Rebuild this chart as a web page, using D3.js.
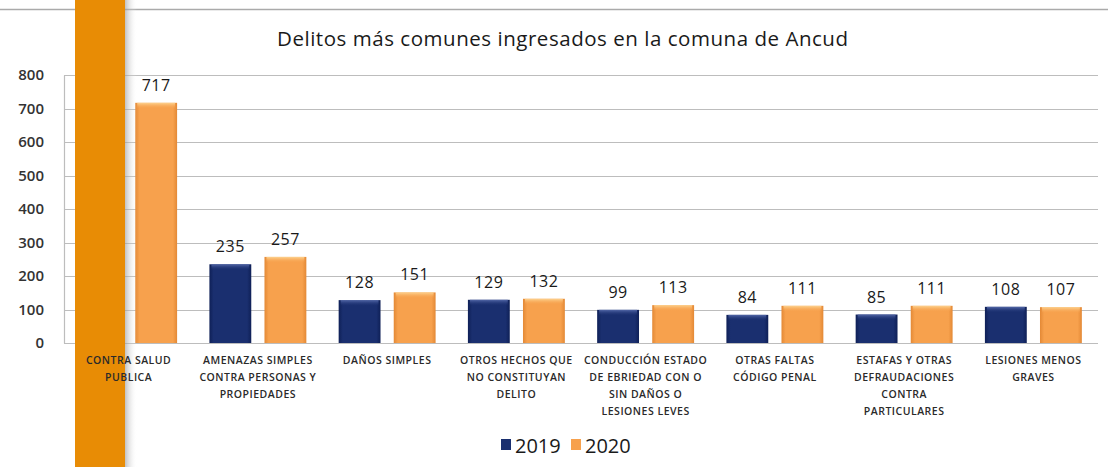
<!DOCTYPE html>
<html>
<head>
<meta charset="utf-8">
<script src="https://cdn.jsdelivr.net/npm/d3@7"></script>
<style>
  body { margin: 0; background: #fff; }
  svg { display: block; font-family: "Open Sans", Lato, sans-serif; }
</style>
</head>
<body>
<script>
// Data
const categories = [
  ["CONTRA SALUD", "PUBLICA"],
  ["AMENAZAS SIMPLES", "CONTRA PERSONAS Y", "PROPIEDADES"],
  ["DAÑOS SIMPLES"],
  ["OTROS HECHOS QUE", "NO CONSTITUYAN", "DELITO"],
  ["CONDUCCIÓN ESTADO", "DE EBRIEDAD CON O", "SIN DAÑOS O", "LESIONES LEVES"],
  ["OTRAS FALTAS", "CÓDIGO PENAL"],
  ["ESTAFAS Y OTRAS", "DEFRAUDACIONES", "CONTRA", "PARTICULARES"],
  ["LESIONES MENOS", "GRAVES"]
];
const values2019 = [null, 235, 128, 129, 99, 84, 85, 108]; // first one hidden behind the band
const values2020 = [717, 257, 151, 132, 113, 111, 111, 107];
const years = ["2019", "2020"];
const yTicks = [0, 100, 200, 300, 400, 500, 600, 700, 800];

const width = 1108, height = 467;
const margin = { top: 75, right: 10, bottom: 124, left: 64 };

const svg = d3.select('body').append('svg')
    .attr('width', width)
    .attr('height', height);

const defs = svg.append('defs');
function barGradient(id, dark, mid) {
  const g = defs.append('linearGradient').attr('id', id)
      .attr('x1', 0).attr('x2', 1).attr('y1', 0).attr('y2', 0);
  g.append('stop').attr('offset', '0%').attr('stop-color', dark);
  g.append('stop').attr('offset', '10%').attr('stop-color', mid);
  g.append('stop').attr('offset', '90%').attr('stop-color', mid);
  g.append('stop').attr('offset', '100%').attr('stop-color', dark);
  return `url(#${id})`;
}
function capGradient(id, light, mid) {
  const g = defs.append('linearGradient').attr('id', id)
      .attr('x1', 0).attr('x2', 0).attr('y1', 0).attr('y2', 1);
  g.append('stop').attr('offset', '0%').attr('stop-color', light);
  g.append('stop').attr('offset', '100%').attr('stop-color', mid).attr('stop-opacity', 0);
  return `url(#${id})`;
}
const colors = {
  "2019": barGradient('g2019', '#0f2057', '#1a2f6f'),
  "2020": barGradient('g2020', '#e38936', '#f7a14d')
};
const topColors = {
  "2019": capGradient('c2019', '#5468a8', '#1a2f6f'),
  "2020": capGradient('c2020', '#fdd390', '#f7a14d')
};
const legendColors = { "2019": '#1a2f6f', "2020": '#f7a14d' };

const shadow = defs.append('linearGradient').attr('id', 'shadow')
    .attr('x1', 0).attr('x2', 1);
shadow.append('stop').attr('offset', '0%').attr('stop-color', '#999').attr('stop-opacity', 0.6);
shadow.append('stop').attr('offset', '100%').attr('stop-color', '#fff').attr('stop-opacity', 0);

// Page rule at top
svg.append('line')
    .attr('x1', 0).attr('x2', width)
    .attr('y1', 9.5).attr('y2', 9.5)
    .attr('stroke', '#aaa').attr('stroke-width', 1.5);

const x = d3.scaleBand()
    .domain(d3.range(categories.length))
    .range([margin.left, width - margin.right])
    .paddingInner(0.25).paddingOuter(0.125);

const xSub = d3.scaleBand()
    .domain(years)
    .range([0, x.bandwidth()])
    .paddingInner(0.24);

const y = d3.scaleLinear()
    .domain([0, 800])
    .range([height - margin.bottom, margin.top]);

// Title
svg.append('text')
    .attr('x', 277).attr('y', 46)
    .attr('font-size', 20.5)
    .attr('font-weight', 500)
    .attr('fill', '#1a1a1a')
    .attr('textLength', 571)
    .attr('lengthAdjust', 'spacing')
    .text('Delitos más comunes ingresados en la comuna de Ancud');

// Grid lines
svg.append('g')
    .selectAll('line')
    .data(yTicks)
    .join('line')
    .attr('x1', margin.left).attr('x2', width - margin.right)
    .attr('y1', d => Math.round(y(d)) + 0.5).attr('y2', d => Math.round(y(d)) + 0.5)
    .attr('stroke', '#bdbdbd').attr('stroke-width', 1.2);

// Y axis
const yAxis = svg.append('g')
    .attr('transform', `translate(${margin.left},0)`)
    .call(d3.axisLeft(y).tickValues(yTicks).tickSize(0).tickPadding(20));
yAxis.select('.domain').attr('stroke', '#bdbdbd').attr('stroke-width', 1.2);
yAxis.selectAll('text')
    .attr('font-size', 15).attr('font-weight', 600)
    .attr('fill', '#333').attr('font-family', '"Open Sans", sans-serif');

// Bars
const rows = categories.map((c, i) => ({ i, vals: [
  { year: "2019", value: values2019[i] },
  { year: "2020", value: values2020[i] }
].filter(d => d.value != null) }));

const groups = svg.append('g')
    .selectAll('g')
    .data(rows)
    .join('g')
    .attr('transform', d => `translate(${x(d.i)},0)`);

groups.selectAll('rect.bar')
    .data(d => d.vals)
    .join('rect')
    .attr('class', 'bar')
    .attr('x', d => xSub(d.year))
    .attr('y', d => y(d.value))
    .attr('width', xSub.bandwidth())
    .attr('height', d => y(0) - y(d.value))
    .attr('fill', d => colors[d.year]);

groups.selectAll('rect.cap')
    .data(d => d.vals)
    .join('rect')
    .attr('class', 'cap')
    .attr('x', d => xSub(d.year) + 2)
    .attr('y', d => y(d.value))
    .attr('width', xSub.bandwidth() - 4)
    .attr('height', 6)
    .attr('fill', d => topColors[d.year]);

groups.selectAll('text.val')
    .data(d => d.vals)
    .join('text')
    .attr('class', 'val')
    .attr('x', d => xSub(d.year) + xSub.bandwidth() / 2)
    .attr('y', d => y(d.value) - 12)
    .attr('text-anchor', 'middle')
    .attr('font-size', 16)
    .attr('font-weight', 500)
    .attr('letter-spacing', 0.5)
    .attr('fill', '#1a1a1a')
    .text(d => d.value);

// Orange page band on the left (over the chart, under the category labels)
svg.append('rect')
    .attr('x', 125).attr('y', 0).attr('width', 12).attr('height', height)
    .attr('fill', 'url(#shadow)');
svg.append('rect')
    .attr('x', 75).attr('y', 0).attr('width', 50).attr('height', height)
    .attr('fill', '#e88c05');

// Category labels
const catLabels = svg.append('g')
    .selectAll('text')
    .data(categories)
    .join('text')
    .attr('x', (d, i) => x(i) + x.bandwidth() / 2)
    .attr('y', 364)
    .attr('text-anchor', 'middle')
    .attr('font-size', 10.5)
    .attr('font-weight', 600)
    .attr('letter-spacing', 0.5)
    .attr('fill', '#2a2a2a');
catLabels.selectAll('tspan')
    .data(d => d)
    .join('tspan')
    .attr('x', function () { return this.parentNode.getAttribute('x'); })
    .attr('dy', (d, i) => i === 0 ? 0 : 17)
    .text(d => d);

// Legend
const legend = svg.append('g').attr('transform', 'translate(501,453)');
years.forEach((yr, i) => {
  const lg = legend.append('g').attr('transform', `translate(${i * 70},0)`);
  lg.append('rect')
      .attr('x', 0).attr('y', -14).attr('width', 10).attr('height', 11)
      .attr('fill', legendColors[yr]);
  lg.append('text')
      .attr('x', 14).attr('y', 0)
      .attr('font-size', 20)
      .attr('font-weight', 500)
      .attr('fill', '#1a1a1a')
      .text(yr);
});
</script>
</body>
</html>
